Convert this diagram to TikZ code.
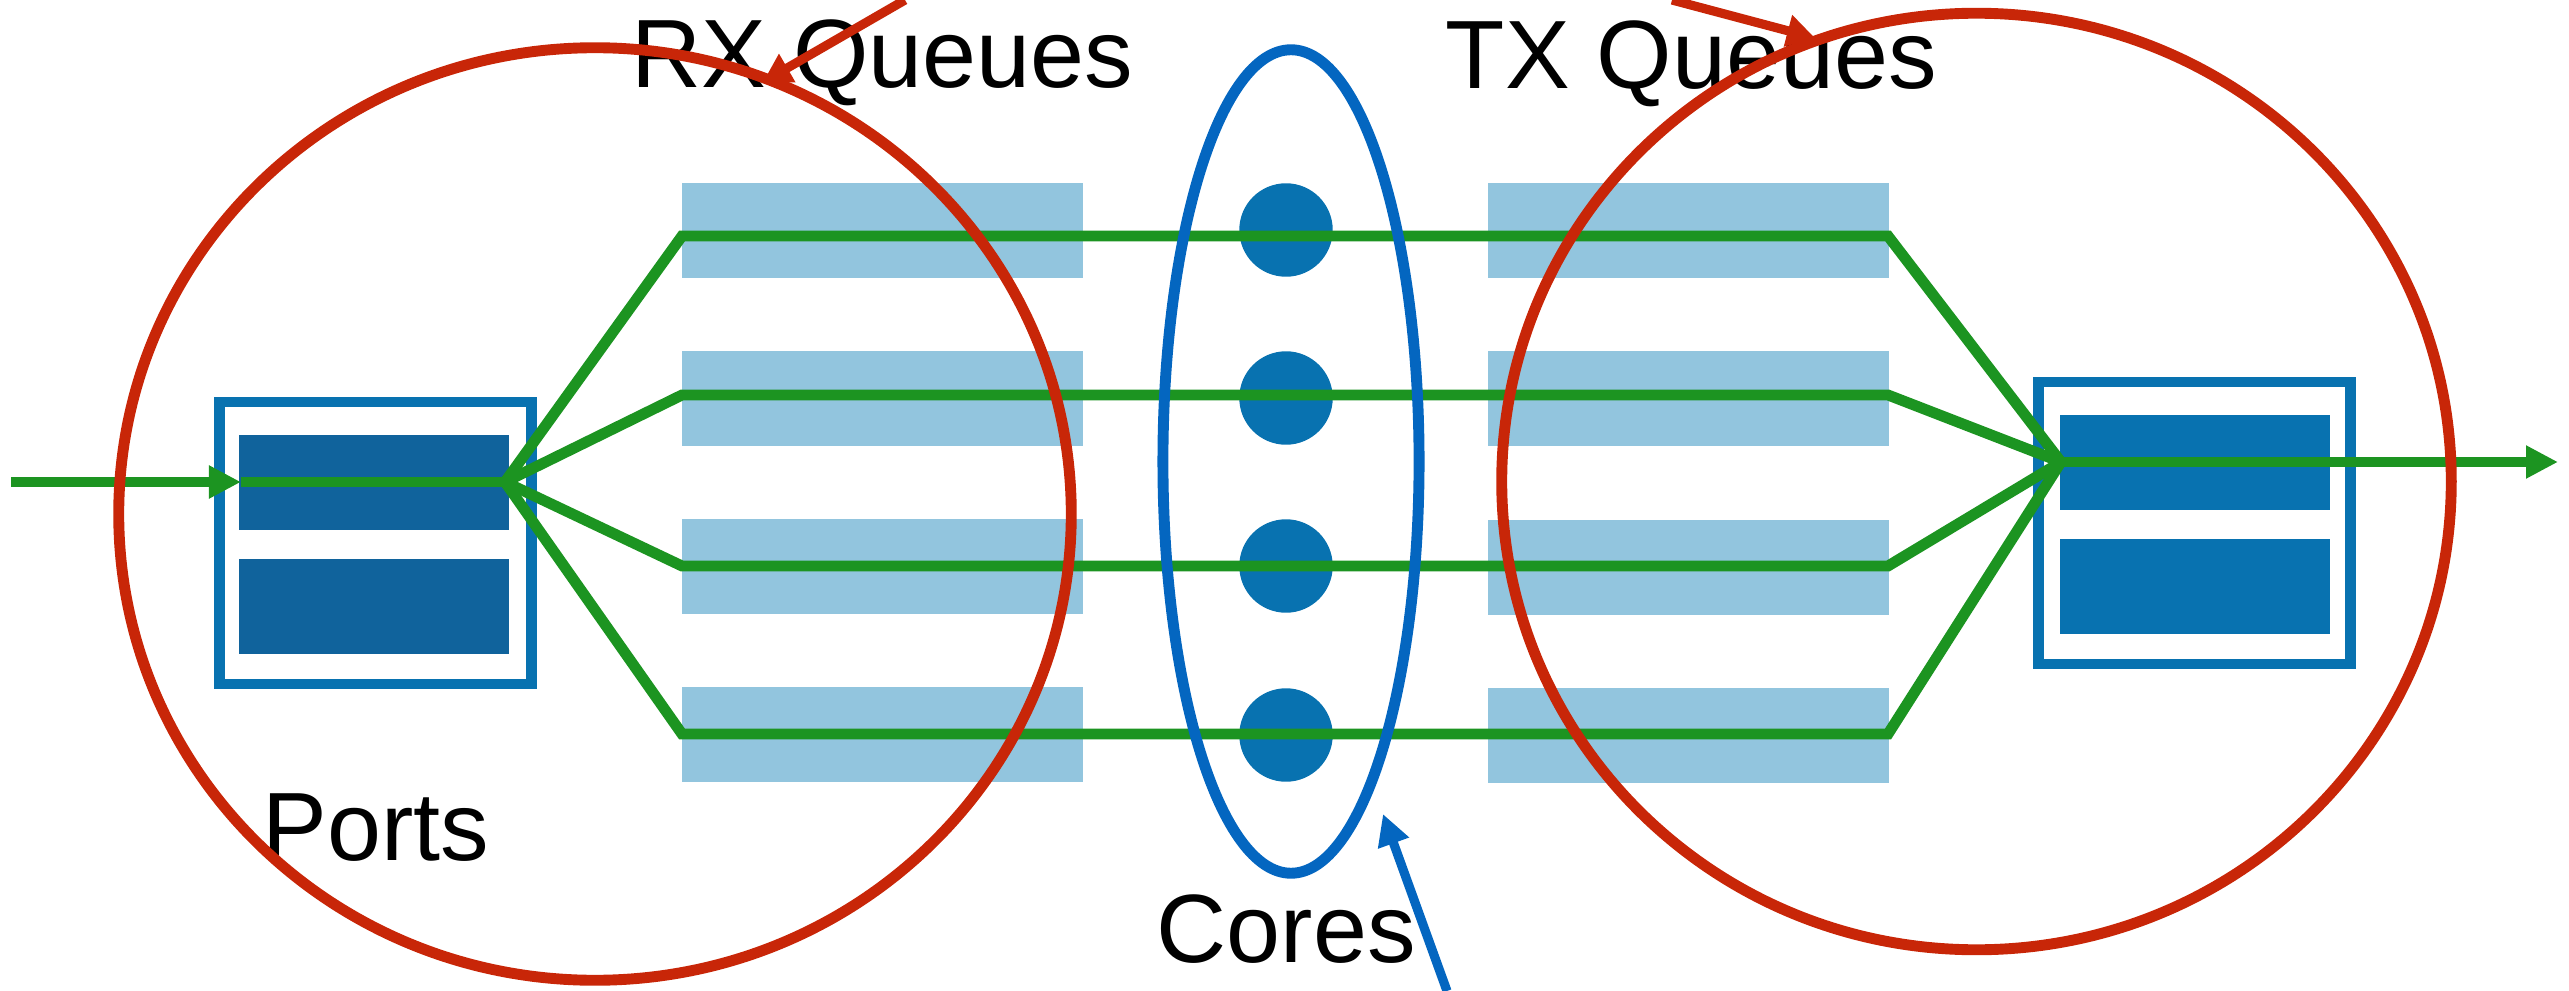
\documentclass[tikz,border=0pt]{standalone}
\usepackage{fontspec}
\setmainfont{Liberation Sans}
\usetikzlibrary{arrows.meta}

\definecolor{ringred}{RGB}{200,38,8}
\definecolor{flowgreen}{RGB}{28,148,33}
\definecolor{queueblue}{RGB}{146,197,222}
\definecolor{coreblue}{RGB}{8,114,176}
\definecolor{portdark}{RGB}{16,99,156}
\definecolor{loopblue}{RGB}{4,102,192}

\begin{document}
\begin{tikzpicture}[x=0.01cm, y=-0.01cm,
  queue/.style={rectangle, fill=queueblue, draw=none, inner sep=0,
                minimum width=4.01cm, minimum height=0.95cm},
  portframe/.style={rectangle, draw=coreblue, line width=3pt, fill=white,
                    inner sep=0, minimum width=3.12cm, minimum height=2.82cm},
  portslot/.style={rectangle, draw=none, inner sep=0,
                   minimum width=2.69cm, minimum height=0.95cm},
  core/.style={circle, fill=coreblue, draw=none, inner sep=0, minimum size=0.934cm},
  flow/.style={draw=flowgreen, line width=3.1pt},
  flowtip/.style={-{Triangle[length=0.32cm, width=0.31cm]}},
  ring/.style={draw=ringred, line width=3.1pt},
  pointer/.style={line width=2.6pt},
  lbl/.style={inner sep=0, anchor=base west, text=black,
              font=\fontsize{27.6pt}{33pt}\selectfont}]

\useasboundingbox (0,0) rectangle (2569,991);

% receive and transmit queues
\node[queue] (rxq1) at (882.5,230.5) {};
\node[queue] (rxq2) at (882.5,398.5) {};
\node[queue] (rxq3) at (882.5,566.5) {};
\node[queue] (rxq4) at (882.5,734.5) {};
\node[queue] (txq1) at (1688.5,230.5) {};
\node[queue] (txq2) at (1688.5,398.5) {};
\node[queue] (txq3) at (1688.5,567.5) {};
\node[queue] (txq4) at (1688.5,735.5) {};

% input port and output port
\node[portframe] (portin) at (375.5,543) {};
\node[portslot, fill=portdark] (portin1) at (374,482.5) {};
\node[portslot, fill=portdark] (portin2) at (374,606.5) {};
\node[portframe] (portout) at (2194.5,523) {};
\node[portslot, fill=coreblue] (portout1) at (2195,462.5) {};
\node[portslot, fill=coreblue] (portout2) at (2195,586.5) {};

% cores
\node[core] (core1) at (1286,230) {};
\node[core] (core2) at (1286,398) {};
\node[core] (core3) at (1286,566) {};
\node[core] (core4) at (1286,735) {};

% packet paths
\coordinate (src)  at (11,482);
\coordinate (rxin) at (241,482);
\coordinate (fanL) at (505,482);
\coordinate (fanR) at (2061,462);
\coordinate (sink) at (2558,462);
\coordinate (lane1a) at (682,236);  \coordinate (lane1b) at (1888,236);
\coordinate (lane2a) at (682,395);  \coordinate (lane2b) at (1888,395);
\coordinate (lane3a) at (682,566);  \coordinate (lane3b) at (1888,566);
\coordinate (lane4a) at (682,734);  \coordinate (lane4b) at (1888,734);

\draw[flow, flowtip] (src) -- (rxin);
\draw[flow] (rxin) -- (fanL);
\foreach \k in {1,2,3,4}
  \draw[flow] (fanL) -- (lane\k a) -- (lane\k b) -- (fanR);
\draw[flow, flowtip] (fanR) -- (sink);

% core group
\draw[loopblue, line width=3.1pt] (1291,461.5) ellipse [x radius=1.28cm, y radius=4.115cm];
\coordinate (coretail) at (1447,991);
\coordinate (coretip)  at (1383,814);
\draw[loopblue, pointer, -{Triangle[length=0.31cm, width=0.31cm]}] (coretail) -- (coretip);

% labels
\node[lbl] (rxlabel)   at (631,88)   {RX Queues};
\node[lbl] (txlabel)   at (1445,89)  {TX Queues};
\node[lbl] (portlabel) at (262,860)  {Ports};
\node[lbl] (corelabel) at (1156,962) {Cores};

% receive and transmit groups
\draw[ring] (595,514) ellipse [x radius=4.76cm, y radius=4.66cm];
\draw[ring] (1976.5,481.5) ellipse [x radius=4.745cm, y radius=4.68cm];
\coordinate (rxtail) at (905,0);
\coordinate (rxtip)  at (763,82);
\coordinate (txtail) at (1672,0);
\coordinate (txtip)  at (1815,38);
\draw[ringred, pointer, -{Triangle[length=0.28cm, width=0.31cm]}] (rxtail) -- (rxtip);
\draw[ringred, pointer, -{Triangle[length=0.28cm, width=0.31cm]}] (txtail) -- (txtip);

\end{tikzpicture}
\end{document}
